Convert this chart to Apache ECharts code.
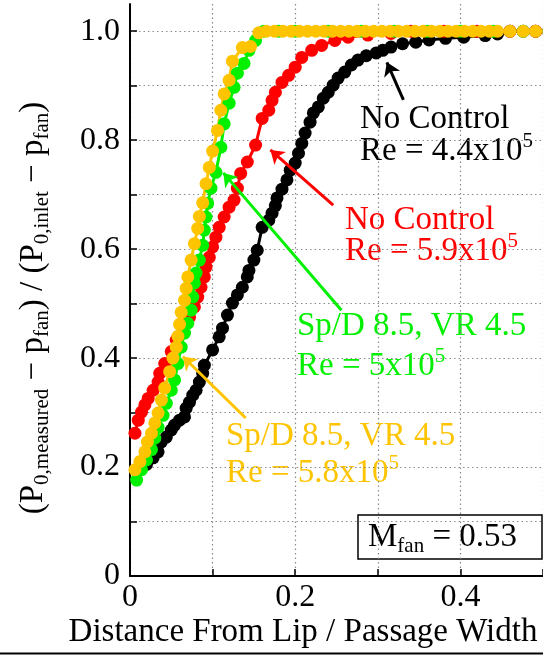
<!DOCTYPE html>
<html>
<head>
<meta charset="utf-8">
<script src="https://cdn.jsdelivr.net/npm/echarts@6/dist/echarts.min.js"></script>
<style>
  html, body { margin: 0; padding: 0; background: #fff; }
  #chart { width: 543px; height: 656px; }
</style>
</head>
<body>
<div id="chart"></div>
<script>
// Axis ticks and labels
const xTicks = [0, 0.1, 0.2, 0.3, 0.4, 0.5];
const xLabels = [0, 0.2, 0.4];
const yTicks = [0, 0.1, 0.2, 0.3, 0.4, 0.5, 0.6, 0.7, 0.8, 0.9, 1.0];
const yLabels = [0, 0.2, 0.4, 0.6, 0.8, 1.0];

// No Control, Re = 4.4x10^5  [distance / width, pressure ratio]
const noControl44 = [
  [0.020, 0.205], [0.028, 0.217], [0.034, 0.228], [0.038, 0.246], [0.044, 0.255],
  [0.050, 0.268], [0.054, 0.277], [0.060, 0.286], [0.066, 0.292], [0.068, 0.308],
  [0.072, 0.319], [0.076, 0.332], [0.080, 0.341], [0.084, 0.356], [0.088, 0.372],
  [0.090, 0.387], [0.100, 0.415], [0.108, 0.439], [0.112, 0.455], [0.118, 0.479],
  [0.124, 0.501], [0.130, 0.516], [0.136, 0.530], [0.142, 0.549], [0.144, 0.561],
  [0.150, 0.580], [0.154, 0.598], [0.160, 0.640], [0.168, 0.653], [0.172, 0.666],
  [0.176, 0.680], [0.178, 0.694], [0.184, 0.710], [0.190, 0.727], [0.194, 0.745],
  [0.200, 0.758], [0.204, 0.776], [0.208, 0.794], [0.212, 0.813], [0.218, 0.833],
  [0.222, 0.850], [0.228, 0.861], [0.234, 0.877], [0.240, 0.888], [0.246, 0.901],
  [0.252, 0.914], [0.260, 0.925], [0.268, 0.938], [0.276, 0.947], [0.286, 0.955],
  [0.298, 0.960], [0.306, 0.965], [0.316, 0.971], [0.330, 0.977], [0.346, 0.980],
  [0.362, 0.984], [0.382, 0.987], [0.404, 0.989], [0.430, 0.992], [0.445, 0.995],
  [0.460, 1.000], [0.476, 1.000], [0.491, 1.000], [0.507, 1.000]
];

// No Control, Re = 5.9x10^5
const noControl59 = [
  [0.006, 0.262], [0.010, 0.286], [0.014, 0.301], [0.018, 0.314], [0.022, 0.326],
  [0.028, 0.341], [0.034, 0.356], [0.036, 0.372], [0.042, 0.390], [0.050, 0.412],
  [0.056, 0.433], [0.064, 0.457], [0.072, 0.475], [0.078, 0.494], [0.082, 0.512],
  [0.086, 0.530], [0.090, 0.549], [0.092, 0.567], [0.096, 0.585], [0.100, 0.604],
  [0.104, 0.622], [0.108, 0.640], [0.114, 0.659], [0.120, 0.677], [0.126, 0.690],
  [0.130, 0.712], [0.134, 0.739], [0.142, 0.760], [0.152, 0.791], [0.160, 0.840],
  [0.168, 0.855], [0.172, 0.873], [0.176, 0.888], [0.184, 0.906], [0.192, 0.919],
  [0.200, 0.934], [0.208, 0.952], [0.220, 0.965], [0.232, 0.974], [0.248, 0.983],
  [0.264, 0.989], [0.288, 0.993], [0.316, 0.996], [0.340, 1.000], [0.380, 1.000],
  [0.420, 1.000], [0.460, 1.000], [0.491, 1.000]
];

// Sp/D 8.5, VR 4.5, Re = 5x10^5
const sp85Re50 = [
  [0.008, 0.176], [0.014, 0.195], [0.020, 0.213], [0.026, 0.232], [0.030, 0.253],
  [0.034, 0.273], [0.040, 0.295], [0.044, 0.317], [0.050, 0.341], [0.054, 0.360],
  [0.058, 0.390], [0.062, 0.420], [0.066, 0.446], [0.070, 0.464], [0.074, 0.488],
  [0.076, 0.512], [0.078, 0.538], [0.080, 0.556], [0.084, 0.580], [0.088, 0.607],
  [0.090, 0.635], [0.092, 0.659], [0.094, 0.684], [0.098, 0.712], [0.104, 0.741],
  [0.110, 0.787], [0.114, 0.830], [0.120, 0.868], [0.126, 0.897], [0.130, 0.923],
  [0.138, 0.941], [0.144, 0.965], [0.152, 0.983], [0.162, 1.000], [0.180, 1.000],
  [0.200, 1.000], [0.240, 1.000], [0.280, 1.000], [0.320, 1.000], [0.360, 1.000],
  [0.400, 1.000], [0.440, 1.000], [0.476, 1.000], [0.507, 1.000]
];

// Sp/D 8.5, VR 4.5, Re = 5.8x10^5
const sp85Re58 = [
  [0.006, 0.195], [0.012, 0.210], [0.018, 0.228], [0.021, 0.246], [0.026, 0.262],
  [0.030, 0.281], [0.034, 0.299], [0.038, 0.323], [0.042, 0.345], [0.048, 0.375],
  [0.052, 0.400], [0.056, 0.420], [0.058, 0.440], [0.060, 0.462], [0.062, 0.484],
  [0.066, 0.506], [0.068, 0.528], [0.070, 0.549], [0.074, 0.580], [0.078, 0.610],
  [0.082, 0.638], [0.084, 0.660], [0.088, 0.685], [0.092, 0.720], [0.096, 0.750],
  [0.100, 0.780], [0.106, 0.818], [0.110, 0.855], [0.114, 0.885], [0.120, 0.910],
  [0.124, 0.945], [0.136, 0.970], [0.146, 0.972], [0.156, 0.997], [0.165, 1.000],
  [0.175, 1.000], [0.185, 1.000], [0.195, 1.000], [0.205, 1.000], [0.215, 1.000],
  [0.225, 1.000], [0.235, 1.000], [0.245, 1.000], [0.255, 1.000], [0.265, 1.000],
  [0.275, 1.000], [0.285, 1.000], [0.295, 1.000], [0.305, 1.000], [0.315, 1.000],
  [0.325, 1.000], [0.335, 1.000], [0.345, 1.000], [0.355, 1.000], [0.365, 1.000],
  [0.375, 1.000], [0.385, 1.000], [0.395, 1.000], [0.405, 1.000], [0.415, 1.000],
  [0.425, 1.000], [0.435, 1.000], [0.445, 1.000], [0.460, 1.000], [0.476, 1.000],
  [0.491, 1.000], [0.507, 1.000]
];

const FONT = 'Liberation Serif';
const BLACK = '#000000';
const RED = '#ff0000';
const GREEN = '#00f000';
const GOLD = '#ffc400';

// Annotation arrows, tail -> head, in data coordinates
const arrows = {
  noControl44: [[0.331, 0.874], [0.311, 0.943]],
  noControl59: [[0.246, 0.681], [0.170, 0.782]],
  sp85Re50: [[0.256, 0.488], [0.113, 0.740]],
  sp85Re58: [[0.140, 0.290], [0.064, 0.403]]
};

function curve(name, data, color, arrow) {
  return {
    type: 'line',
    name: name,
    data: data,
    symbol: 'circle',
    symbolSize: 13,
    showAllSymbol: true,
    clip: false,
    itemStyle: { color: color },
    lineStyle: { color: color, width: 3 },
    emphasis: { disabled: true },
    animation: false,
    markLine: {
      silent: true,
      animation: false,
      symbol: ['none', 'arrow'],
      symbolSize: 13,
      label: { show: false },
      emphasis: { disabled: true },
      lineStyle: { color: color, width: 3, type: 'solid', opacity: 1 },
      data: [[{ coord: arrow[0] }, { coord: arrow[1] }]]
    }
  };
}

function richStyles(color, size) {
  return {
    m: { fontFamily: FONT, fontSize: size, lineHeight: 40, fill: color },
    p: { fontFamily: FONT, fontSize: Math.round(size * 0.64), lineHeight: 30, verticalAlign: 'top', fill: color },
    s: { fontFamily: FONT, fontSize: Math.round(size * 0.64), lineHeight: 18, verticalAlign: 'bottom', fill: color }
  };
}

function note(x, y, text, color) {
  return {
    type: 'text', x: x, y: y, silent: true,
    style: {
      text: text, fill: color, font: '33px "' + FONT + '"',
      textAlign: 'left', textVerticalAlign: 'middle',
      rich: richStyles(color, 33)
    }
  };
}

const labelFmt = v => (v === 0 ? '0' : v.toFixed(1));

const chart = echarts.init(document.getElementById('chart'), null, { renderer: 'canvas' });

chart.setOption({
  backgroundColor: '#ffffff',
  animation: false,
  grid: { left: 130, top: 4, width: 416.5, height: 572, containLabel: false },
  xAxis: {
    type: 'value', min: 0, max: 0.5,
    axisLine: { show: true, lineStyle: { color: BLACK, width: 2 } },
    axisTick: { show: true, inside: true, length: 7, customValues: xTicks, lineStyle: { color: BLACK, width: 1.5 } },
    axisLabel: { customValues: xLabels, formatter: labelFmt, color: BLACK, fontFamily: FONT, fontSize: 32, margin: 6 },
    splitLine: { show: true, lineStyle: { color: '#8a8a8a', width: 1.2, type: [1.5, 3] } }
  },
  yAxis: {
    type: 'value', min: 0, max: 1.05,
    axisLine: { show: true, lineStyle: { color: BLACK, width: 2 } },
    axisTick: { show: true, inside: true, length: 7, customValues: yTicks, lineStyle: { color: BLACK, width: 1.5 } },
    axisLabel: { customValues: yLabels, formatter: labelFmt, color: BLACK, fontFamily: FONT, fontSize: 32, margin: 10 },
    splitLine: { show: true, lineStyle: { color: '#8a8a8a', width: 1.2, type: [1.5, 3] } }
  },
  series: [
    curve('No Control, Re = 4.4x10^5', noControl44, BLACK, arrows.noControl44),
    curve('No Control, Re = 5.9x10^5', noControl59, RED, arrows.noControl59),
    curve('Sp/D 8.5, VR 4.5, Re = 5x10^5', sp85Re50, GREEN, arrows.sp85Re50),
    curve('Sp/D 8.5, VR 4.5, Re = 5.8x10^5', sp85Re58, GOLD, arrows.sp85Re58)
  ],
  graphic: [
    // axis titles
    {
      type: 'text', x: 303, y: 632, silent: true,
      style: { text: 'Distance From Lip / Passage Width', fill: BLACK, font: '33px "' + FONT + '"', textAlign: 'center', textVerticalAlign: 'middle' }
    },
    {
      type: 'text', x: 33, y: 308, rotation: Math.PI / 2, silent: true,
      style: {
        text: '{m|(P}{s|0,measured}{m| \u2212 p}{s|fan}{m|) / (P}{s|0,inlet}{m| \u2212 p}{s|fan}{m|)}',
        fill: BLACK, font: '33px "' + FONT + '"', textAlign: 'center', textVerticalAlign: 'middle',
        rich: richStyles(BLACK, 33)
      }
    },
    // curve annotations
    note(360, 119, '{m|No Control}', BLACK),
    note(360, 151, '{m|Re = 4.4x10}{p|5}', BLACK),
    note(345, 220, '{m|No Control}', RED),
    note(345, 251, '{m|Re = 5.9x10}{p|5}', RED),
    note(297, 326, '{m|Sp/D 8.5, VR 4.5}', GREEN),
    note(297, 366, '{m|Re = 5x10}{p|5}', GREEN),
    note(226, 436, '{m|Sp/D 8.5, VR 4.5}', GOLD),
    note(226, 473, '{m|Re = 5.8x10}{p|5}', GOLD),
    // Mach number box
    {
      type: 'rect', silent: true,
      shape: { x: 358, y: 515, width: 184, height: 44 },
      style: { fill: '#ffffff', stroke: BLACK, lineWidth: 1.5 }
    },
    note(368, 537, '{m|M}{s|fan}{m| = 0.53}', BLACK),
    // rule under the figure
    {
      type: 'line', silent: true,
      shape: { x1: 0, y1: 653.5, x2: 543, y2: 653.5 },
      style: { stroke: BLACK, lineWidth: 2 }
    }
  ]
});
</script>
</body>
</html>
